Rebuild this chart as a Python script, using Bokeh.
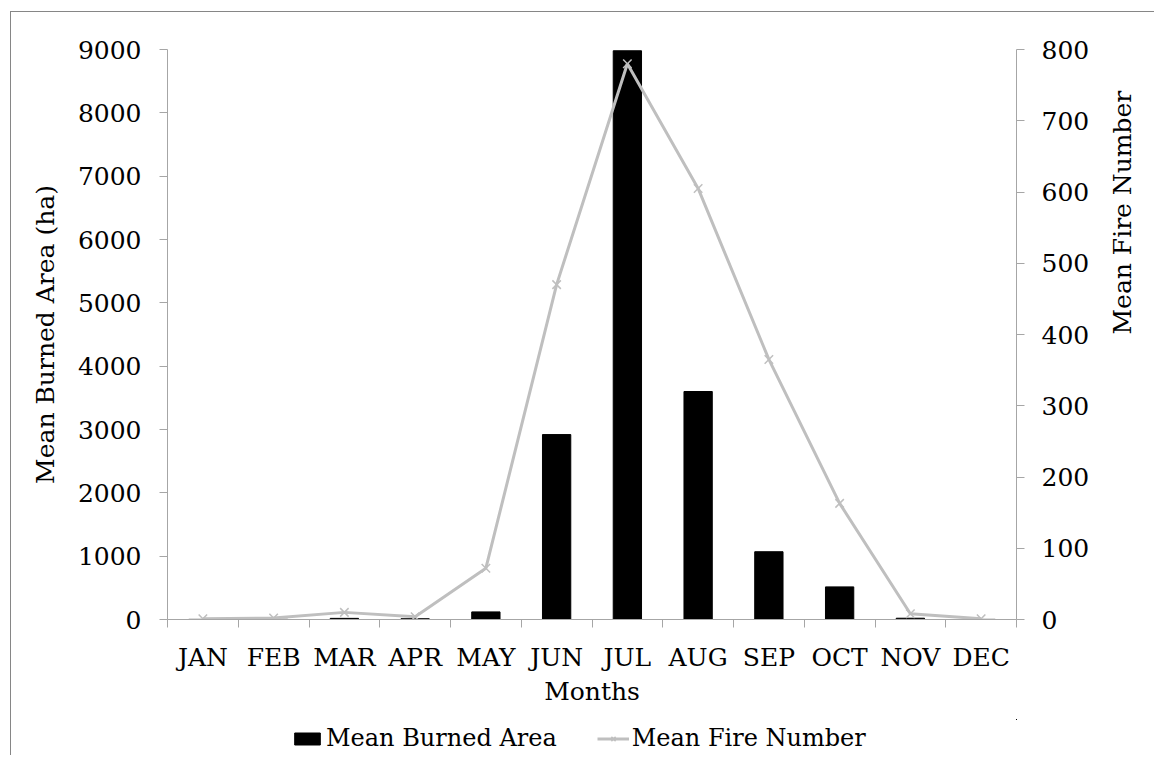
import math
from bokeh.plotting import figure
from bokeh.layouts import column
from bokeh.models import (Range1d, LinearAxis, FixedTicker, Legend, LegendItem)
from bokeh.embed import file_html
from bokeh.resources import INLINE

months = ["JAN", "FEB", "MAR", "APR", "MAY", "JUN", "JUL", "AUG", "SEP", "OCT", "NOV", "DEC"]
burned_area = [2, 3, 18, 12, 120, 2920, 8980, 3600, 1070, 515, 20, 2]
fire_number = [1, 2, 10, 4, 72, 470, 780, 605, 365, 163, 8, 1]
area_ticks = [0, 1000, 2000, 3000, 4000, 5000, 6000, 7000, 8000, 9000]
fire_ticks = [0, 100, 200, 300, 400, 500, 600, 700, 800]

FONT = "DejaVu Serif"
AXIS_C = "#A6A6A6"
LINE_C = "#BFBFBF"
W = 1143

x = list(range(len(months)))
bounds = [i - 0.5 for i in range(len(months) + 1)]

p = figure(width=W, height=707, output_backend="svg", toolbar_location=None,
           x_range=Range1d(-0.5, len(months) - 0.5),
           y_range=Range1d(area_ticks[0], area_ticks[-1]),
           min_border_left=156, min_border_right=136, min_border_top=37, min_border_bottom=100,
           x_axis_type=None, y_axis_type=None)
p.extra_y_ranges = {"fire": Range1d(fire_ticks[0], fire_ticks[-1])}
p.outline_line_color = None
p.xgrid.visible = False
p.ygrid.visible = False

def style_axis(ax):
    ax.axis_line_color = AXIS_C
    ax.axis_line_width = 1
    ax.major_tick_line_color = AXIS_C
    ax.minor_tick_line_color = AXIS_C
    ax.major_label_text_font = FONT
    ax.major_label_text_font_size = "25px"
    ax.major_label_text_color = "black"
    ax.axis_label_text_font = FONT
    ax.axis_label_text_font_size = "25px"
    ax.axis_label_text_font_style = "normal"
    ax.axis_label_text_color = "black"

xa = LinearAxis(ticker=FixedTicker(ticks=x, minor_ticks=bounds))
xa.major_label_overrides = {i: m for i, m in enumerate(months)}
xa.major_tick_in = 0
xa.major_tick_out = 0
xa.minor_tick_in = 0
xa.minor_tick_out = 8
xa.major_label_standoff = 15
xa.axis_label = "Months"
xa.axis_label_standoff = 2
style_axis(xa)
p.add_layout(xa, "below")

ya = LinearAxis(ticker=FixedTicker(ticks=area_ticks, minor_ticks=[]))
ya.major_tick_in = 0
ya.major_tick_out = 8
ya.major_label_standoff = 18
ya.axis_label = "Mean Burned Area (ha)"
ya.axis_label_standoff = 15
style_axis(ya)
p.add_layout(ya, "left")

yb = LinearAxis(y_range_name="fire", ticker=FixedTicker(ticks=fire_ticks, minor_ticks=[]))
yb.major_tick_in = 0
yb.major_tick_out = 8
yb.major_label_standoff = 17
yb.axis_label = "Mean Fire Number"
yb.axis_label_standoff = 30
if hasattr(yb, "axis_label_orientation"):
    yb.axis_label_orientation = math.pi / 2
style_axis(yb)
p.add_layout(yb, "right")

p.vbar(x=x, top=burned_area, width=0.4, bottom=0, fill_color="black", line_color="black")
p.line(x=x, y=fire_number, y_range_name="fire", line_color=LINE_C, line_width=3)
p.scatter(x=x, y=fire_number, y_range_name="fire", marker="x", size=12,
          line_color=LINE_C, line_width=1.5)

# legend strip below the chart (its own figure so the legend is not clipped);
# its glyphs lie outside its ranges, only the legend shows
q = figure(width=W, height=36, output_backend="svg", toolbar_location=None,
           x_range=Range1d(-1001, -1000), y_range=Range1d(-1001, -1000),
           min_border=0, x_axis_type=None, y_axis_type=None)
q.outline_line_color = None
q.xgrid.visible = False
q.ygrid.visible = False
lb = q.vbar(x=x, top=burned_area, width=0.4, bottom=0, fill_color="black", line_color="black")
ll = q.line(x=x, y=fire_number, line_color=LINE_C, line_width=3)
lm = q.scatter(x=x, y=fire_number, marker="x", size=12, line_color=LINE_C, line_width=1.5)

legend = Legend(items=[LegendItem(label="Mean Burned Area", renderers=[lb]),
                       LegendItem(label="Mean Fire Number", renderers=[ll, lm])],
                orientation="horizontal", location=(124, 3),
                label_text_font=FONT, label_text_font_size="24px", label_text_color="black",
                glyph_width=32, glyph_height=15, spacing=40, padding=0, margin=0,
                label_standoff=3, border_line_color=None, background_fill_alpha=0)
q.add_layout(legend, "center")

layout = column(p, q, spacing=0)
layout.styles = {"margin-left": "10px", "margin-top": "11px",
                 "border-left": "1px solid #868686", "border-top": "1px solid #868686"}

open("out.html", "w").write(file_html(layout, INLINE))
